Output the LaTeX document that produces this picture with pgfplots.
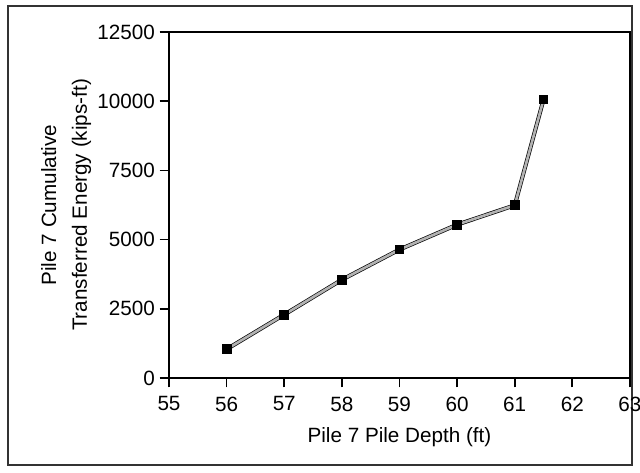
\documentclass[border=0pt]{standalone}
\usepackage{pgfplots}
\pgfplotsset{compat=1.18}
\usepackage{fontspec}
\setmainfont{Liberation Sans}
\begin{document}
\begin{tikzpicture}
\useasboundingbox (-126.75pt,-70.5pt) rectangle (353.25pt,283.5pt);
\draw[line width=0.9pt, black!80] (-120.75pt,-65.25pt) rectangle (347.25pt,279pt);
\begin{axis}[
  at={(0,0)}, anchor=south west,
  scale only axis, width=345.75pt, height=259.5pt,
  xmin=55, xmax=63, ymin=0, ymax=12500,
  xtick={55,56,...,63},
  ytick={0,2500,5000,7500,10000,12500},
  scaled ticks=false,
  tick align=outside, tick pos=left,
  major tick length=7pt,
  every tick/.style={line width=1.3pt, black},
  axis line style={line width=1.5pt},
  /pgf/number format/assume math mode=true,
  /pgf/number format/set thousands separator={},
  yticklabel style={/pgf/number format/fixed},
  xticklabel style={yshift=-3.5pt},
  tick label style={font=\fontsize{15.5}{18}\selectfont},
  label style={font=\fontsize{15.5}{23}\selectfont},
  xlabel={Pile 7 Pile Depth (ft)},
  ylabel={Pile 7 Cumulative\\Transferred Energy (kips-ft)},
  ylabel style={align=center, at={(axis description cs:-0.223,0.5)}, anchor=center},
  xlabel style={at={(axis description cs:0.5,-0.1705)}, anchor=center},
]
\addplot[draw=black, line width=0.5pt, double=gray!60, double distance=2pt,
  mark=square*, mark size=3.3pt, mark options={solid, fill=black, draw=black, line width=0pt}]
  coordinates {(56,1040) (57,2290) (58,3550) (59,4640) (60,5540) (61,6240) (61.5,10060)};
\end{axis}
\end{tikzpicture}
\end{document}
